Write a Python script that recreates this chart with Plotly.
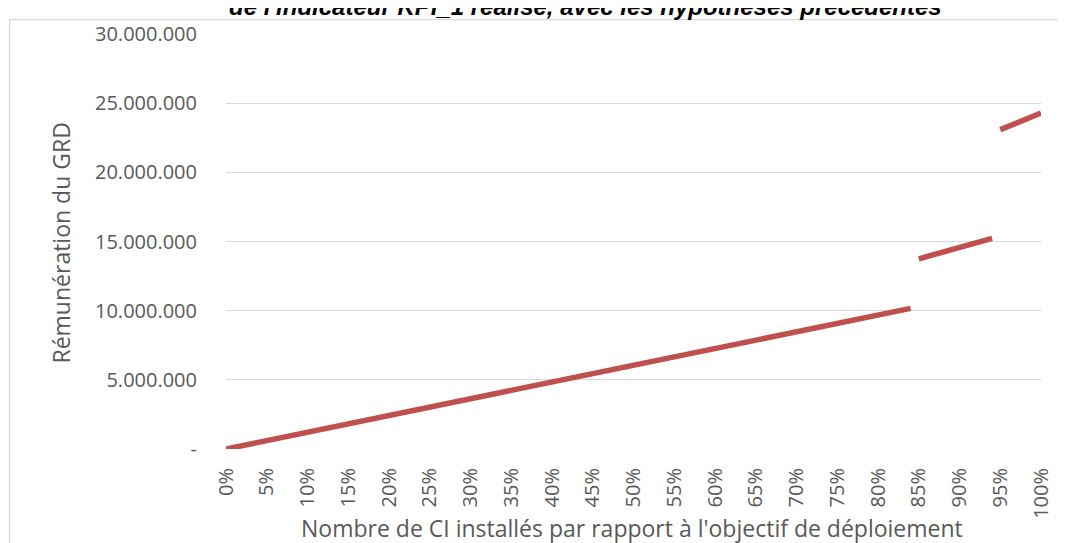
import plotly.graph_objects as go

# Data; None = gap between segments
pct = [0, 84, None, 85, 94, None, 95, 100]
remuneration = [0, 10170000, None, 13750000, 15220000, None, 23090000, 24280000]

x_tickvals = list(range(0, 101, 5))
x_ticktext = [f"{v}%" for v in x_tickvals]
y_tickvals = [0, 5000000, 10000000, 15000000, 20000000, 25000000, 30000000]
y_ticktext = ["-", "5.000.000", "10.000.000", "15.000.000", "20.000.000", "25.000.000", "30.000.000"]

title_text = "de l'indicateur KPI_1 réalisé, avec les hypothèses précédentes"
x_title = "Nombre de CI installés par rapport à l'objectif de déploiement"
y_title = "Rémunération du GRD"

# page body has an 8px margin: screen coords = figure coords + 8
OFF = 8
W, H = 1066 - OFF, 543 - OFF
L, R, T, B = 226, 1045, 30, 449.5          # plot area in screen pixels
pw, ph = R - L, B - T


def px(x):
    return (x - L) / pw


def py(y):
    return (B - y) / ph


FONT = "Open Sans, Liberation Sans, sans-serif"
GREY = "#595959"

fig = go.Figure()
fig.add_trace(go.Scatter(
    x=pct, y=remuneration, mode="lines",
    line=dict(color="#C0504D", width=5.5),
    connectgaps=False, showlegend=False,
))

fig.update_layout(
    width=W, height=H,
    margin=dict(l=L - OFF, r=W - (R - OFF), t=T - OFF, b=H - (B - OFF), pad=0),
    plot_bgcolor="white", paper_bgcolor="white",
    font=dict(family=FONT, color=GREY, size=20),
    showlegend=False,
)
fig.update_xaxes(
    range=[0, 100], tickmode="array", tickvals=x_tickvals, ticktext=x_ticktext,
    tickangle=-90, showgrid=False, zeroline=False, showline=False,
    ticks="outside", ticklen=10, tickcolor="rgba(0,0,0,0)",
    tickfont=dict(family=FONT, size=20, color=GREY),
)
fig.update_yaxes(
    range=[0, 30000000], tickmode="array", tickvals=y_tickvals, ticktext=y_ticktext,
    showgrid=True, gridcolor="#D9D9D9", gridwidth=1.3, zeroline=False, showline=False,
    ticks="outside", ticklen=24, tickcolor="rgba(0,0,0,0)",
    tickfont=dict(family=FONT, size=20, color=GREY),
)

# chart border
fig.add_shape(type="rect", xref="paper", yref="paper",
              x0=px(8.5), x1=px(1080), y0=py(570), y1=py(15.5),
              line=dict(color="#D9D9D9", width=1.3), fillcolor="rgba(0,0,0,0)", layer="below")

# title (clipped at the top in the reference)
fig.add_annotation(text=title_text, xref="paper", yref="paper",
                   x=px(587), y=py(18), xanchor="center", yanchor="bottom",
                   showarrow=False,
                   font=dict(family="Liberation Sans, Arial, sans-serif", size=24, color="black",
                             weight="bold", style="italic"))
# axis titles
fig.add_annotation(text=y_title, xref="paper", yref="paper",
                   x=px(60), y=py(241), xanchor="center", yanchor="middle",
                   textangle=-90, showarrow=False,
                   font=dict(family=FONT, size=23, color=GREY))
fig.add_annotation(text=x_title, xref="paper", yref="paper",
                   x=px(634), y=py(529), xanchor="center", yanchor="middle",
                   showarrow=False,
                   font=dict(family=FONT, size=23, color=GREY))

fig.write_html("out.html")
